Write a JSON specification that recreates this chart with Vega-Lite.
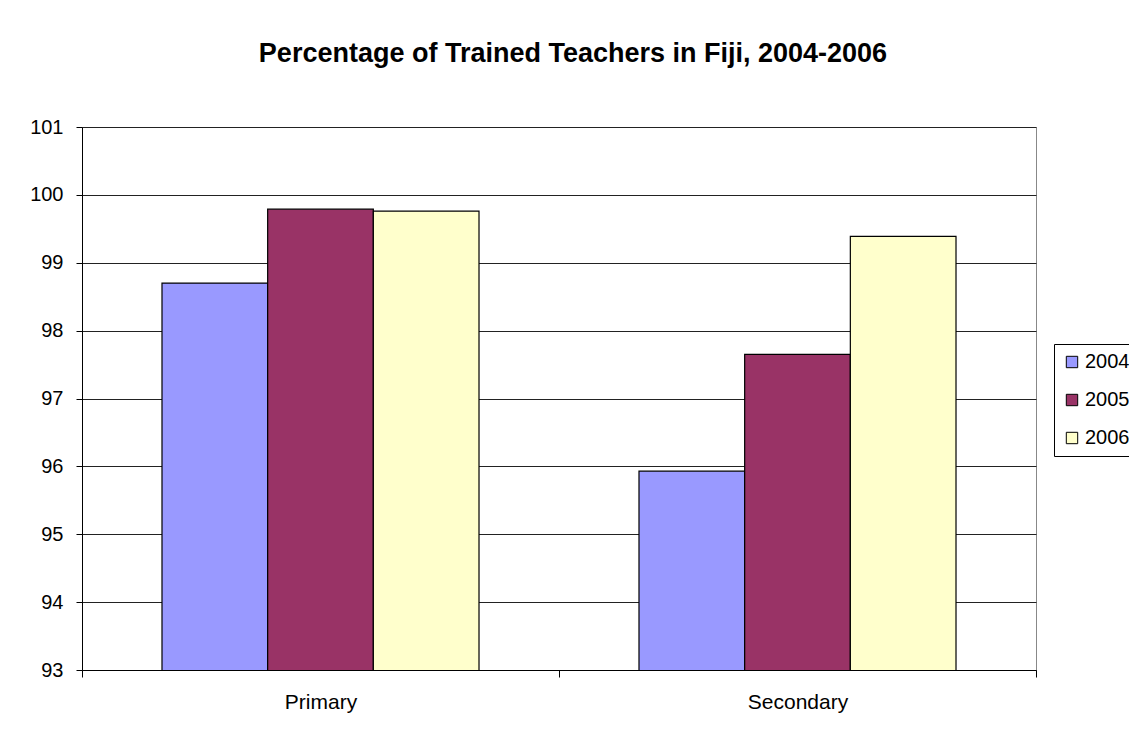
{
  "$schema": "https://vega.github.io/schema/vega-lite/v6.json",
  "width": 954,
  "height": 543,
  "autosize": {"type": "none"},
  "padding": {"left": 82, "top": 127, "right": 93, "bottom": 64},
  "background": "white",
  "title": {
    "text": "Percentage of Trained Teachers in Fiji, 2004-2006",
    "font": "Liberation Sans",
    "fontSize": 27,
    "fontWeight": "bold",
    "color": "black",
    "anchor": "middle",
    "frame": "group",
    "dx": 14,
    "baseline": "alphabetic",
    "offset": 28
  },
  "data": {
    "values": [
      {"level": "Primary", "year": "2004", "pct": 98.70},
      {"level": "Primary", "year": "2005", "pct": 99.79},
      {"level": "Primary", "year": "2006", "pct": 99.76},
      {"level": "Secondary", "year": "2004", "pct": 95.93},
      {"level": "Secondary", "year": "2005", "pct": 97.65},
      {"level": "Secondary", "year": "2006", "pct": 99.39}
    ]
  },
  "mark": {"type": "bar", "stroke": "black", "strokeWidth": 1.2, "clip": true},
  "encoding": {
    "x": {
      "field": "level",
      "type": "nominal",
      "title": null,
      "scale": {"paddingInner": 0, "paddingOuter": 0},
      "axis": {
        "labelAngle": 0,
        "labelFont": "Liberation Sans",
        "labelFontSize": 21,
        "labelColor": "black",
        "labelPadding": 14,
        "tickBand": "extent",
        "tickSize": 7,
        "tickColor": "black",
        "domainColor": "black",
        "grid": false
      }
    },
    "xOffset": {
      "field": "year",
      "type": "nominal",
      "scale": {"paddingInner": 0, "paddingOuter": 0.757}
    },
    "y": {
      "field": "pct",
      "type": "quantitative",
      "title": null,
      "scale": {"domain": [93, 101], "zero": false, "nice": false},
      "axis": {
        "values": [93, 94, 95, 96, 97, 98, 99, 100, 101],
        "labelFont": "Liberation Sans",
        "labelFontSize": 20,
        "labelColor": "black",
        "labelPadding": 13,
        "tickSize": 6,
        "tickColor": "black",
        "domainColor": "black",
        "gridColor": "#222222",
        "gridOpacity": 1,
        "grid": true
      }
    },
    "color": {
      "field": "year",
      "type": "nominal",
      "title": null,
      "scale": {"domain": ["2004", "2005", "2006"], "range": ["#9999FF", "#993366", "#FFFFCC"]},
      "legend": {
        "orient": "none",
        "legendX": 972,
        "legendY": 217,
        "symbolType": "square",
        "symbolSize": 130,
        "symbolStrokeColor": "black",
        "symbolStrokeWidth": 1,
        "symbolOpacity": 1,
        "labelFont": "Liberation Sans",
        "labelFontSize": 20,
        "labelColor": "black",
        "labelOffset": 3,
        "rowPadding": 18,
        "padding": 8,
        "strokeColor": "black",
        "fillColor": "white"
      }
    }
  },
  "config": {
    "view": {"stroke": "#888888", "strokeWidth": 1},
    "axis": {"domainWidth": 1, "tickWidth": 1, "gridWidth": 1}
  }
}
